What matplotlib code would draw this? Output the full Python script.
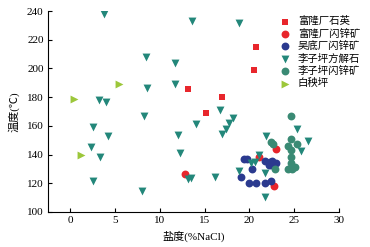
import numpy as np
import matplotlib.pyplot as plt

plt.rcParams['font.family'] = ['Liberation Serif', 'Noto Sans CJK SC', 'DejaVu Sans']

# 富隆厂石英
fl_qz_x = [13.2, 15.2, 16.9, 20.5, 20.7]
fl_qz_y = [185.7, 169.2, 180.1, 198.9, 214.9]
# 富隆厂闪锌矿
fl_sp_x = [12.8, 21.1, 23.0, 22.8]
fl_sp_y = [126.3, 138.1, 143.9, 118.1]
# 吴底厂闪锌矿
wd_sp_x = [19.4, 19.7, 20.3, 21.7, 22.3, 22.5, 23.0, 22.4, 22.2, 19.1, 20.0, 20.8, 21.7, 22.4]
wd_sp_y = [136.8, 136.8, 129.8, 135.8, 135.0, 135.5, 133.9, 132.7, 132.7, 124.2, 120.0, 120.0, 120.0, 121.9]
# 李子坪方解石
lz_ca_x = [3.8, 13.6, 18.9, 8.5, 11.7, 11.7, 8.55, 3.2, 4.0, 8.25, 16.7, 18.2, 17.7,
           14.1, 17.4, 16.9, 12.0, 12.3, 2.6, 4.2, 2.3, 3.3, 2.6, 8.0, 13.2, 13.5,
           16.2, 21.9, 25.3, 26.5, 25.8, 21.1, 20.6, 20.2, 18.9, 21.7, 21.7]
lz_ca_y = [238, 232.8, 231.9, 208, 204, 189, 186.6, 178, 176.8, 166.9, 170.8, 165.3, 161.8,
           161.6, 157.8, 154.5, 153.8, 140.8, 159, 153, 145.5, 138.5, 121.6, 114.7, 123, 123.5,
           124.6, 153, 157.6, 149.7, 142.7, 139.7, 135, 133.9, 128.8, 127, 110.7]
# 李子坪闪锌矿
lz_sp_x = [24.6, 22.4, 22.6, 24.7, 25.3, 24.3, 24.6, 24.7, 24.6, 24.3, 24.8, 25.1, 22.9]
lz_sp_y = [167.1, 149.0, 147.4, 150.5, 147.3, 146.0, 143.5, 138.4, 134.0, 130.0, 130.0, 131.5, 130.0]
# 白秧坪
bq_x = [0.4, 1.2, 5.4]
bq_y = [179, 140, 189]

fig = plt.figure(figsize=(3.7, 2.47), dpi=100)
ax = fig.add_axes([0.129, 0.142, 0.787, 0.813])

ax.scatter(fl_qz_x, fl_qz_y, marker='s', s=20, color='#e8262c', lw=0, label='富隆厂石英', zorder=3)
ax.scatter(fl_sp_x, fl_sp_y, marker='o', s=32, color='#e8262c', lw=0, label='富隆厂闪锌矿', zorder=3)
ax.scatter(wd_sp_x, wd_sp_y, marker='o', s=32, color='#2b3a8f', lw=0, label='吴底厂闪锌矿', zorder=3)
ax.scatter(lz_ca_x, lz_ca_y, marker='v', s=32, color='#23877a', lw=0, label='李子坪方解石', zorder=3)
ax.scatter(lz_sp_x, lz_sp_y, marker='o', s=32, color='#3a8a74', lw=0, label='李子坪闪锌矿', zorder=3)
ax.scatter(bq_x, bq_y, marker='>', s=32, color='#9cc73a', lw=0, label='白秧坪', zorder=3)

ax.set_xlim(-2.5, 30)
ax.set_ylim(100, 240)
ax.set_xticks([0, 5, 10, 15, 20, 25, 30])
ax.set_yticks(np.arange(100, 241, 20))
ax.spines['top'].set_visible(False)
ax.spines['right'].set_visible(False)
ax.tick_params(direction='in', length=3, width=0.8, labelsize=8, pad=3)
ax.set_xlabel('盐度(%NaCl)', fontsize=8, labelpad=4)
ax.set_ylabel('温度(℃)', fontsize=8, labelpad=5)

leg = ax.legend(loc='upper right', bbox_to_anchor=(1.09, 1.0), frameon=False, fontsize=7.5,
                handletextpad=0.6, labelspacing=0.22, borderaxespad=0.1, handlelength=1.2)

fig.savefig('out.png', dpi=100)
